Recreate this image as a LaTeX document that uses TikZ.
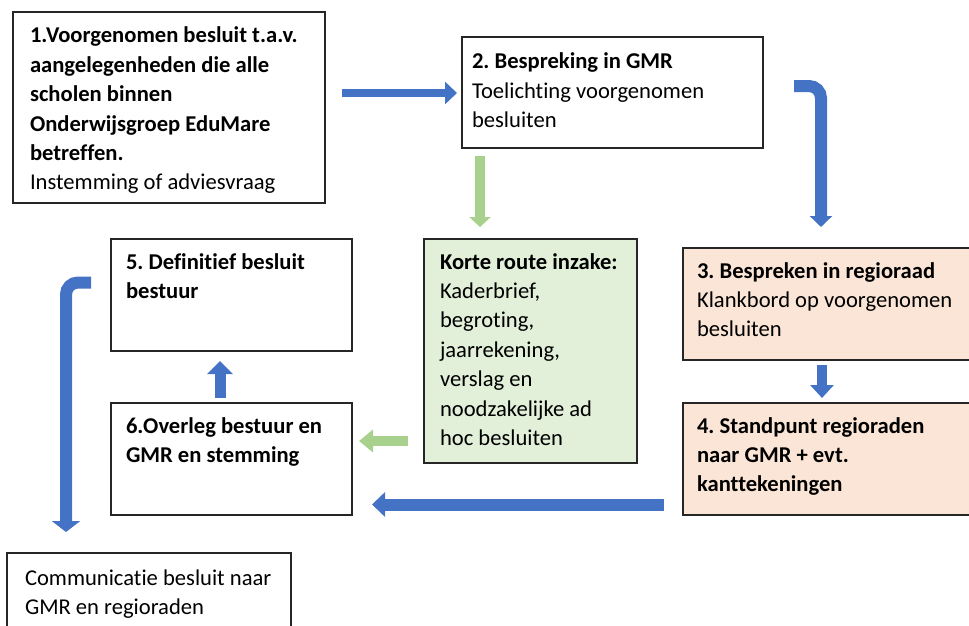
\documentclass[tikz,border=0pt]{standalone}
\usepackage{fontspec}
\setmainfont{Carlito}[Ligatures=NoCommon]
\usetikzlibrary{arrows.meta}
\definecolor{arrblue}{HTML}{4472C4}
\definecolor{arrgreen}{HTML}{A9D18E}
\definecolor{peach}{HTML}{FBE5D6}
\definecolor{lgreen}{HTML}{E2F0D9}
\frenchspacing
\newcommand{\txtlines}[1]{\begin{tabular}[t]{@{}l@{}}#1\end{tabular}}
\begin{document}
\begin{tikzpicture}[x=1pt,y=-1pt,
  box/.style={draw=black!85,line width=1.5pt,inner sep=0pt,outer sep=0pt},
  txt/.style={inner sep=0pt,outer sep=0pt,anchor=base west,font=\fontsize{22.6}{29.4}\selectfont},
  barrow/.style={draw=arrblue,line cap=butt},
  garrow/.style={draw=arrgreen,line cap=butt}]
\useasboundingbox (0,0) rectangle (969,626);
% boxes
\node[box,fill=white,minimum width=312pt,minimum height=191pt] (b1) at (169,107.5) {};
\node[box,fill=white,minimum width=301pt,minimum height=111pt] (b2) at (612.5,92.5) {};
\node[box,fill=peach,minimum width=292pt,minimum height=112pt] (b3) at (829,304) {};
\node[box,fill=peach,minimum width=292pt,minimum height=112pt] (b4) at (829,459) {};
\node[box,fill=lgreen,minimum width=213pt,minimum height=224pt] (bg) at (530.5,351) {};
\node[box,fill=white,minimum width=241pt,minimum height=112pt] (b5) at (231.5,295) {};
\node[box,fill=white,minimum width=241pt,minimum height=112pt] (b6) at (231.5,459) {};
\node[box,fill=white,minimum width=284pt,minimum height=100pt] (b7) at (149,603) {};
% texts
\node[txt] (t1) at (30,43) {\txtlines{\textbf{1.Voorgenomen besluit t.a.v.}\\ \textbf{aangelegenheden die alle}\\ \textbf{scholen binnen}\\ \textbf{Onderwijsgroep EduMare}\\ \textbf{betreffen.}\\ Instemming of adviesvraag}};
\node[txt] (t2) at (472,69) {\txtlines{\textbf{2. Bespreking in GMR}\\ Toelichting voorgenomen\\ besluiten}};
\node[txt] (t3) at (697,278) {\txtlines{\textbf{3. Bespreken in regioraad}\\ Klankbord op voorgenomen\\ besluiten}};
\node[txt] (t4) at (697,433) {\txtlines{\textbf{4. Standpunt regioraden}\\ \textbf{naar GMR + evt.}\\ \textbf{kanttekeningen}}};
\node[txt] (tg) at (440,269) {\txtlines{\textbf{Korte route inzake:}\\ Kaderbrief,\\ begroting,\\ jaarrekening,\\ verslag en\\ noodzakelijke ad\\ hoc besluiten}};
\node[txt] (t5) at (126,269) {\txtlines{\textbf{5. Definitief besluit}\\ \textbf{bestuur}}};
\node[txt] (t6) at (126,433) {\txtlines{\textbf{6.Overleg bestuur en}\\ \textbf{GMR en stemming}}};
\node[txt] (t7) at (25,585) {\txtlines{Communicatie besluit naar\\ GMR en regioraden}};
% arrow end points
\coordinate (a1s) at (342,93);  \coordinate (a1e) at (457,93);
\coordinate (a2s) at (480,156); \coordinate (a2e) at (480,227);
\coordinate (a3s) at (794,86);  \coordinate (a3m) at (821,86);  \coordinate (a3e) at (821,227);
\coordinate (a4s) at (822,365); \coordinate (a4e) at (822,398);
\coordinate (a5s) at (664,504.5); \coordinate (a5e) at (372,504.5);
\coordinate (a6s) at (408,441); \coordinate (a6e) at (359,441);
\coordinate (a7s) at (220,398); \coordinate (a7e) at (220,361);
\coordinate (a8s) at (91,282.5); \coordinate (a8m) at (66,282.5); \coordinate (a8e) at (66,532);
% arrows
\draw[barrow,line width=8pt,-{Triangle[width=22pt,length=12pt]}] (a1s) -- (a1e);
\draw[garrow,line width=10pt,-{Triangle[width=21pt,length=10pt]}] (a2s) -- (a2e);
\draw[barrow,line width=12pt,rounded corners=12pt,-{Triangle[width=22pt,length=11pt]}] (a3s) -- (a3m) -- (a3e);
\draw[barrow,line width=10pt,-{Triangle[width=23pt,length=13pt]}] (a4s) -- (a4e);
\draw[barrow,line width=12pt,-{Triangle[width=24pt,length=13pt]}] (a5s) -- (a5e);
\draw[garrow,line width=9.5pt,-{Triangle[width=22pt,length=14pt]}] (a6s) -- (a6e);
\draw[barrow,line width=11pt,-{Triangle[width=25pt,length=13pt]}] (a7s) -- (a7e);
\draw[barrow,line width=12pt,rounded corners=12pt,-{Triangle[width=28pt,length=11pt]}] (a8s) -- (a8m) -- (a8e);
\end{tikzpicture}
\end{document}
